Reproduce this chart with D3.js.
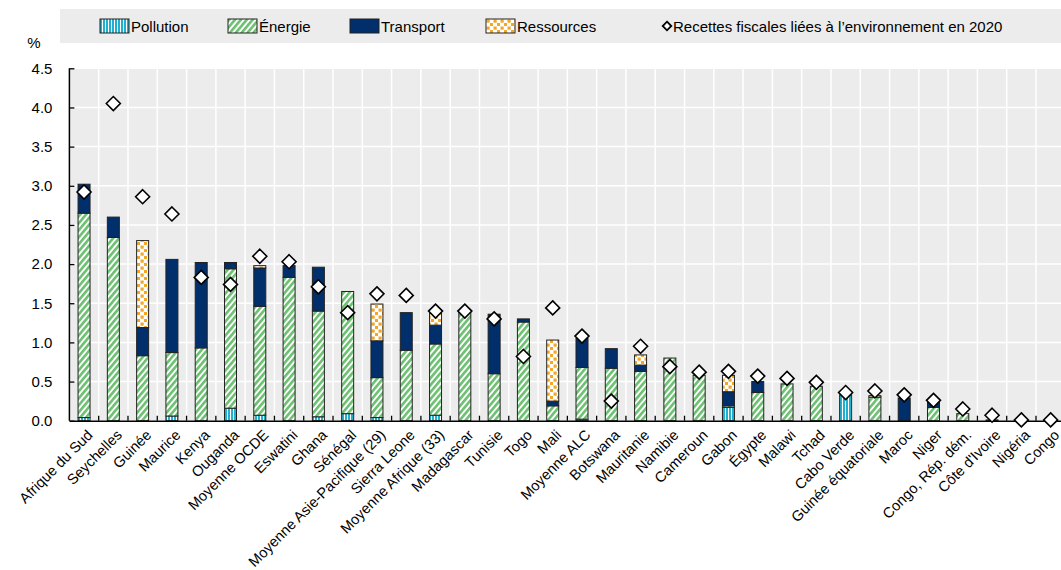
<!DOCTYPE html>
<html>
<head>
    <meta charset="utf-8">
    <script src="https://d3js.org/d3.v7.min.js"></script>
    <style>
        body { margin: 0; background: #fff; }
        svg { display: block; font-family: Arial, "Liberation Sans", sans-serif; }
    </style>
</head>
<body>
<script>
    // Donnees (en % du PIB)
    var categories = ["Afrique du Sud", "Seychelles", "Guinée", "Maurice", "Kenya", "Ouganda", "Moyenne OCDE",
        "Eswatini", "Ghana", "Sénégal", "Moyenne Asie-Pacifique (29)", "Sierra Leone", "Moyenne Afrique (33)",
        "Madagascar", "Tunisie", "Togo", "Mali", "Moyenne ALC", "Botswana", "Mauritanie", "Namibie", "Cameroun",
        "Gabon", "Égypte", "Malawi", "Tchad", "Cabo Verde", "Guinée équatoriale", "Maroc", "Niger",
        "Congo, Rép. dém.", "Côte d'Ivoire", "Nigéria", "Congo"];

    var pollution  = [0.04, 0, 0, 0.06, 0, 0.16, 0.07, 0, 0.05, 0.09, 0.04, 0, 0.07, 0, 0, 0, 0, 0.02, 0, 0, 0, 0, 0.17, 0, 0, 0, 0.33, 0, 0, 0, 0, 0, 0, 0];
    var energie    = [2.61, 2.34, 0.83, 0.81, 0.93, 1.78, 1.39, 1.83, 1.35, 1.56, 0.51, 0.90, 0.91, 1.38, 0.60, 1.26, 0.19, 0.66, 0.67, 0.63, 0.80, 0.58, 0.02, 0.36, 0.47, 0.44, 0, 0.30, 0, 0.17, 0.09, 0.01, 0, 0];
    var transport  = [0.37, 0.26, 0.36, 1.19, 1.09, 0.08, 0.49, 0.15, 0.56, 0, 0.47, 0.48, 0.24, 0, 0.76, 0.04, 0.06, 0.37, 0.25, 0.08, 0, 0, 0.18, 0.14, 0, 0, 0, 0, 0.29, 0.07, 0, 0, 0, 0];
    var ressources = [0, 0, 1.11, 0, 0, 0, 0.03, 0, 0, 0, 0.47, 0, 0.15, 0, 0, 0, 0.78, 0, 0, 0.13, 0, 0, 0.21, 0, 0, 0, 0, 0.02, 0, 0, 0, 0, 0, 0];
    var recettes2020 = [2.92, 4.05, 2.86, 2.64, 1.83, 1.74, 2.10, 2.03, 1.71, 1.38, 1.62, 1.60, 1.40, 1.40, 1.30, 0.82, 1.44, 1.08, 0.25, 0.95, 0.69, 0.62, 0.63, 0.57, 0.54, 0.49, 0.36, 0.38, 0.33, 0.26, 0.15, 0.07, 0.01, 0.01];

    var yTicks = [0, 0.5, 1, 1.5, 2, 2.5, 3, 3.5, 4, 4.5];
    var keys = ["pollution", "energie", "transport", "ressources"];
    var legendLabels = ["Pollution", "Énergie", "Transport", "Ressources"];

    var W = 1061, H = 570;
    var plotLeft = 69.4, plotRight = 1065.3, plotTop = 68.3, plotBottom = 420.7;
    var fontSize = 15;

    var svg = d3.select("body").append("svg")
        .attr("width", W)
        .attr("height", H);

    // Motifs de remplissage
    var defs = svg.append("defs");

    var pPol = defs.append("pattern").attr("id", "pat-pollution")
        .attr("patternUnits", "userSpaceOnUse").attr("width", 3).attr("height", 10);
    pPol.append("rect").attr("width", 3).attr("height", 10).attr("fill", "#fff");
    pPol.append("rect").attr("width", 2).attr("height", 10).attr("fill", "#1fb0d0");

    var pEn = defs.append("pattern").attr("id", "pat-energie")
        .attr("patternUnits", "userSpaceOnUse").attr("width", 4.5).attr("height", 10)
        .attr("patternTransform", "rotate(40)");
    pEn.append("rect").attr("width", 4.5).attr("height", 10).attr("fill", "#fff");
    pEn.append("rect").attr("width", 2.6).attr("height", 10).attr("fill", "#6cc071");

    var pRes = defs.append("pattern").attr("id", "pat-ressources")
        .attr("patternUnits", "userSpaceOnUse").attr("width", 7).attr("height", 7);
    pRes.append("rect").attr("width", 7).attr("height", 7).attr("fill", "#fff");
    pRes.append("rect").attr("x", 0.5).attr("y", 0.5).attr("width", 3.2).attr("height", 3.2).attr("fill", "#f5a623");
    pRes.append("rect").attr("x", 4).attr("y", 4).attr("width", 3.2).attr("height", 3.2).attr("fill", "#f5a623");

    var fills = {
        pollution: "url(#pat-pollution)",
        energie: "url(#pat-energie)",
        transport: "#002f6c",
        ressources: "url(#pat-ressources)"
    };

    // Losange carre (pointe en haut)
    function diamond(r) {
        return "M0," + (-r) + "L" + r + ",0L0," + r + "L" + (-r) + ",0Z";
    }

    // Echelles
    var x = d3.scaleBand().domain(categories).range([plotLeft, plotRight]);
    var y = d3.scaleLinear().domain([0, 4.5]).range([plotBottom, plotTop]);

    // Fond du graphique
    svg.append("rect")
        .attr("x", plotLeft).attr("y", plotTop)
        .attr("width", plotRight - plotLeft).attr("height", plotBottom - plotTop)
        .attr("fill", "#ececec");

    // Grille
    svg.append("g").selectAll("line").data(yTicks.slice(1))
        .enter().append("line")
        .attr("x1", plotLeft).attr("x2", plotRight)
        .attr("y1", function(d) { return y(d); }).attr("y2", function(d) { return y(d); })
        .attr("stroke", "#fff").attr("stroke-width", 1.5);

    svg.append("g").selectAll("line").data(categories.slice(1))
        .enter().append("line")
        .attr("x1", function(d) { return x(d); }).attr("x2", function(d) { return x(d); })
        .attr("y1", plotTop).attr("y2", plotBottom)
        .attr("stroke", "#fff").attr("stroke-width", 1.5);

    // Legende
    svg.append("rect")
        .attr("x", 60).attr("y", 9).attr("width", W - 60).attr("height", 34)
        .attr("fill", "#ececec");

    var legX = [100, 228, 350, 486];
    var leg = svg.append("g").selectAll("g").data(keys)
        .enter().append("g")
        .attr("transform", function(d, i) { return "translate(" + legX[i] + ",19)"; });
    leg.append("rect")
        .attr("width", 29).attr("height", 14)
        .attr("fill", function(d) { return fills[d]; })
        .attr("stroke", "#222").attr("stroke-width", 1);
    leg.append("text")
        .attr("x", 31).attr("y", 12.5)
        .attr("font-size", fontSize)
        .text(function(d, i) { return legendLabels[i]; });

    svg.append("path")
        .attr("d", diamond(4.3))
        .attr("transform", "translate(667,26)")
        .attr("fill", "#fff").attr("stroke", "#000").attr("stroke-width", 1.8);
    svg.append("text")
        .attr("x", 673).attr("y", 31.5)
        .attr("font-size", fontSize)
        .text("Recettes fiscales liées à l’environnement en 2020");

    svg.append("text")
        .attr("x", 34).attr("y", 48)
        .attr("text-anchor", "middle")
        .attr("font-size", fontSize)
        .text("%");

    // Barres empilees
    var rows = categories.map(function(c, i) {
        return { cat: c, pollution: pollution[i], energie: energie[i], transport: transport[i], ressources: ressources[i] };
    });
    var series = d3.stack().keys(keys)(rows);
    var barW = 12;

    svg.append("g").selectAll("g").data(series)
        .enter().append("g")
        .attr("fill", function(s) { return fills[s.key]; })
      .selectAll("rect").data(function(s) { return s.filter(function(d) { return d[1] - d[0] > 0; }); })
        .enter().append("rect")
        .attr("x", function(d) { return x(d.data.cat) + x.bandwidth() / 2 - barW / 2; })
        .attr("width", barW)
        .attr("y", function(d) { return y(d[1]); })
        .attr("height", function(d) { return y(d[0]) - y(d[1]); })
        .attr("stroke", "#222").attr("stroke-width", 1);

    // Axes
    var yAxis = d3.axisLeft(y).tickValues(yTicks).tickSize(-5).tickPadding(17)
        .tickFormat(d3.format(".1f"));
    var gy = svg.append("g")
        .attr("transform", "translate(" + plotLeft + ",0)")
        .call(yAxis);
    gy.select(".domain").attr("stroke", "#000").attr("stroke-width", 1.5).attr("d", "M0," + plotTop + "V" + plotBottom);
    gy.selectAll(".tick line").attr("stroke", "#000").attr("stroke-width", 1.3);
    gy.selectAll("text").attr("font-size", fontSize).attr("font-family", null).attr("fill", "#000");

    var xAxis = d3.axisBottom(x).tickSize(0).tickSizeOuter(0);
    var gx = svg.append("g")
        .attr("transform", "translate(0," + plotBottom + ")")
        .call(xAxis);
    gx.select(".domain").attr("stroke", "#000").attr("stroke-width", 1.5);
    gx.selectAll("text")
        .attr("font-size", 14.6).attr("font-family", null).attr("fill", "#000")
        .style("text-anchor", "end")
        .attr("x", -4).attr("y", 17.5).attr("dy", 0)
        .attr("transform", "rotate(-45)");

    // Petits traits entre les categories
    svg.append("g").selectAll("line").data(categories.slice(1))
        .enter().append("line")
        .attr("x1", function(d) { return x(d); }).attr("x2", function(d) { return x(d); })
        .attr("y1", plotBottom).attr("y2", plotBottom - 5)
        .attr("stroke", "#000").attr("stroke-width", 1.3);

    // Losanges : recettes 2020
    svg.append("g").selectAll("path").data(recettes2020)
        .enter().append("path")
        .attr("d", diamond(7))
        .attr("transform", function(d, i) {
            return "translate(" + (x(categories[i]) + x.bandwidth() / 2) + "," + y(d) + ")";
        })
        .attr("fill", "#fff").attr("stroke", "#000").attr("stroke-width", 1.6);
</script>
</body>
</html>
